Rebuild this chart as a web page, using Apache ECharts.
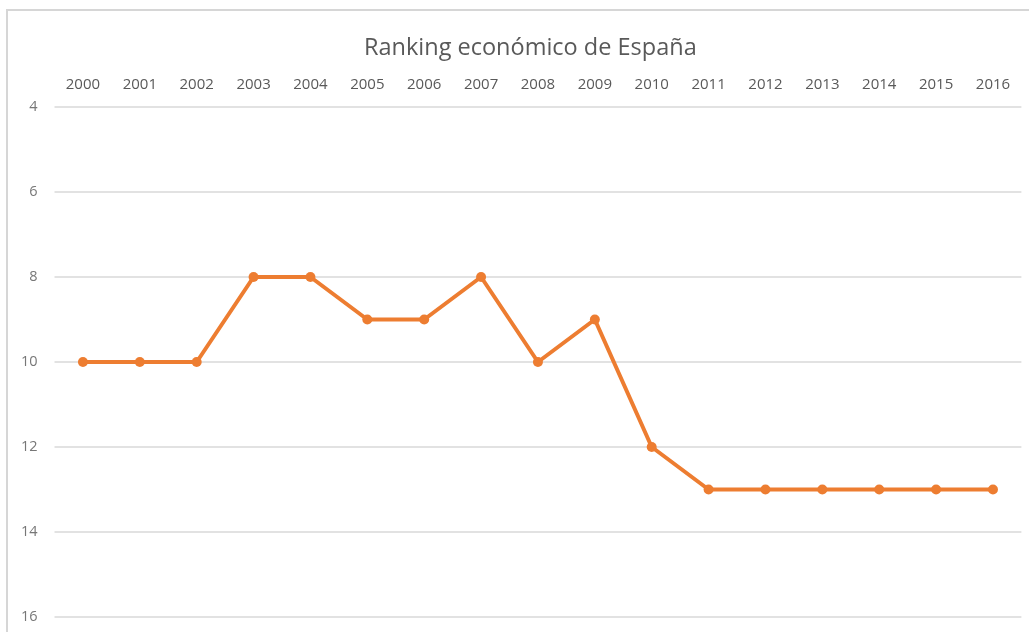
<!DOCTYPE html>
<html>
<head>
<meta charset="utf-8">
<script src="https://cdn.jsdelivr.net/npm/echarts@6/dist/echarts.min.js"></script>
<style>
  html, body { margin: 0; padding: 0; background: #ffffff; }
  #chart { width: 1029px; height: 632px; }
</style>
</head>
<body>
<div id="chart"></div>
<script>
// Years on the category axis
const years = ['2000','2001','2002','2003','2004','2005','2006','2007','2008',
               '2009','2010','2011','2012','2013','2014','2015','2016'];
// Spain's position in the world economic ranking
const ranking = [10, 10, 10, 8, 8, 9, 9, 8, 10, 9, 12, 13, 13, 13, 13, 13, 13];
// Rank scale (inverted: best positions at the top)
const rankMin = 4;
const rankMax = 16;
const rankStep = 2;

const chart = echarts.init(document.getElementById('chart'), null, { renderer: 'canvas' });
const font = '"Open Sans", sans-serif';

chart.setOption({
  animation: false,
  backgroundColor: '#ffffff',
  title: {
    text: 'Ranking económico de España',
    left: 359,
    top: 31,
    textStyle: { fontFamily: font, fontSize: 23.5, fontWeight: 'normal', color: '#595959' }
  },
  graphic: [{
    type: 'rect',
    shape: { x: 7, y: 10, width: 1040, height: 640 },
    style: { fill: 'none', stroke: '#d6d6d6', lineWidth: 2 },
    z: -1
  }],
  grid: { left: 54.5, right: 7.6, top: 107, bottom: 15 },
  xAxis: {
    type: 'category',
    position: 'top',
    data: years,
    boundaryGap: true,
    axisLine: { show: false },
    axisTick: { show: false },
    axisLabel: { color: '#595959', fontFamily: font, fontSize: 15, margin: 15 }
  },
  yAxis: {
    type: 'value',
    inverse: true,
    min: rankMin,
    max: rankMax,
    interval: rankStep,
    axisLine: { show: false },
    axisTick: { show: false },
    axisLabel: { color: '#777777', fontFamily: font, fontSize: 14.5, margin: 17, align: 'right' },
    splitLine: { lineStyle: { color: '#d9d9d9', width: 1.5 } }
  },
  series: [{
    type: 'line',
    data: ranking,
    symbol: 'circle',
    symbolSize: 10,
    lineStyle: { color: '#ED7D31', width: 4 },
    itemStyle: { color: '#ED7D31' }
  }]
});
</script>
</body>
</html>
